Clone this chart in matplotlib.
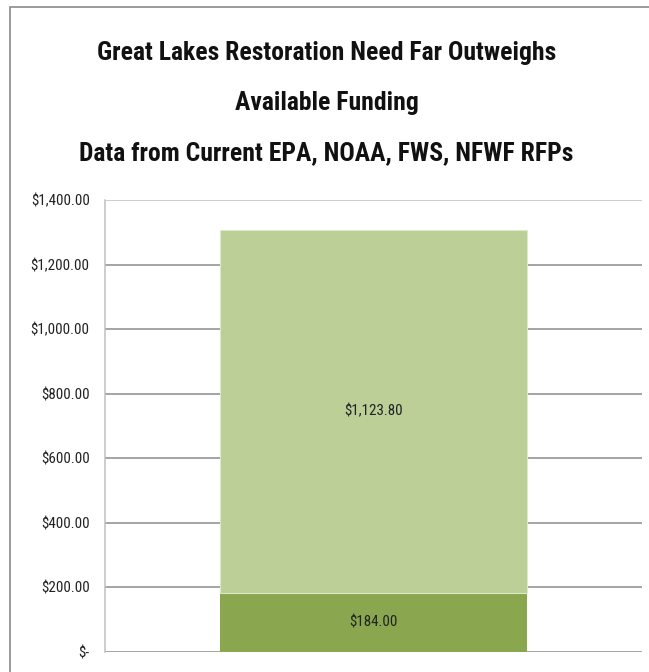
import matplotlib
matplotlib.use('Agg')
import matplotlib.pyplot as plt
from matplotlib.patches import Rectangle

# data
categories = ['']
available = [184.00]
need_gap = [1123.80]
ytick_vals = [0, 200, 400, 600, 800, 1000, 1200, 1400]
ytick_labels = ['$-', '$200.00', '$400.00', '$600.00', '$800.00',
                '$1,000.00', '$1,200.00', '$1,400.00']
seg_labels_bottom = ['$184.00']
seg_labels_top = ['$1,123.80']
title_lines = ['Great Lakes Restoration Need Far Outweighs',
               'Available Funding',
               'Data from Current EPA, NOAA, FWS, NFWF RFPs']

plt.rcParams['font.family'] = ['Roboto Condensed', 'DejaVu Sans Condensed',
                               'Liberation Sans Narrow', 'Lato', 'DejaVu Sans']

W, H = 649, 672
fig = plt.figure(figsize=(W / 100, H / 100), dpi=100)
renderer = fig.canvas.get_renderer()


def fit_size(s, target_px, weight='normal'):
  # pick a font size so the text is target_px wide
  t = fig.text(0, 0, s, fontsize=10, fontweight=weight)
  w = t.get_window_extent(renderer).width
  t.remove()
  return 10 * target_px / w


# outer chart border
fig.patches.append(Rectangle((10 / W, -0.1), 1.2, (H - 7) / H + 0.1,
                             transform=fig.transFigure, fill=False,
                             edgecolor='#8a8a8a', linewidth=1.2))

ax = fig.add_axes([105 / W, 20 / H, 537 / W, 452 / H])
x = range(len(categories))
width = 0.572
ax.bar(x, available, width, color='#8aa64e', zorder=3)
ax.bar(x, need_gap, width, bottom=available, color='#bbcf97',
       edgecolor='#dce8c8', linewidth=0.8, zorder=3)

lab_size = fit_size('$1,400.00', 58)

for i in x:
  ax.text(i, available[i] / 2, seg_labels_bottom[i], ha='center',
          va='center', fontsize=lab_size, color='#222222', zorder=4)
  ax.text(i, available[i] + need_gap[i] / 2, seg_labels_top[i],
          ha='center', va='center', fontsize=lab_size, color='#222222', zorder=4)

ax.set_xlim(-0.5, 0.5)
ax.set_ylim(0, 1400)
ax.set_yticks(ytick_vals)
ax.set_yticklabels(ytick_labels, fontsize=lab_size, color='#222222')
ax.set_xticks([])
ax.tick_params(axis='y', length=0, pad=11)

for v in ytick_vals:
  c = '#c0c0c0' if v == 1400 else '#8c8c8c'
  ax.axhline(v, color=c, linewidth=1.1, zorder=1)

for s in ['top', 'right', 'bottom']:
  ax.spines[s].set_visible(False)
ax.spines['left'].set_color('#c0c0c0')
ax.spines['left'].set_linewidth(1.1)

title_size = (fit_size(title_lines[0], 469, 'bold') +
              fit_size(title_lines[2], 481, 'bold')) / 2
baselines = [60, 110, 160]
for line, yb in zip(title_lines, baselines):
  fig.text(0.5 + 2 / W, 1 - yb / H, line, ha='center', va='baseline',
           fontsize=title_size, fontweight='bold', color='#111111')

fig.savefig('out.png', dpi=100)
